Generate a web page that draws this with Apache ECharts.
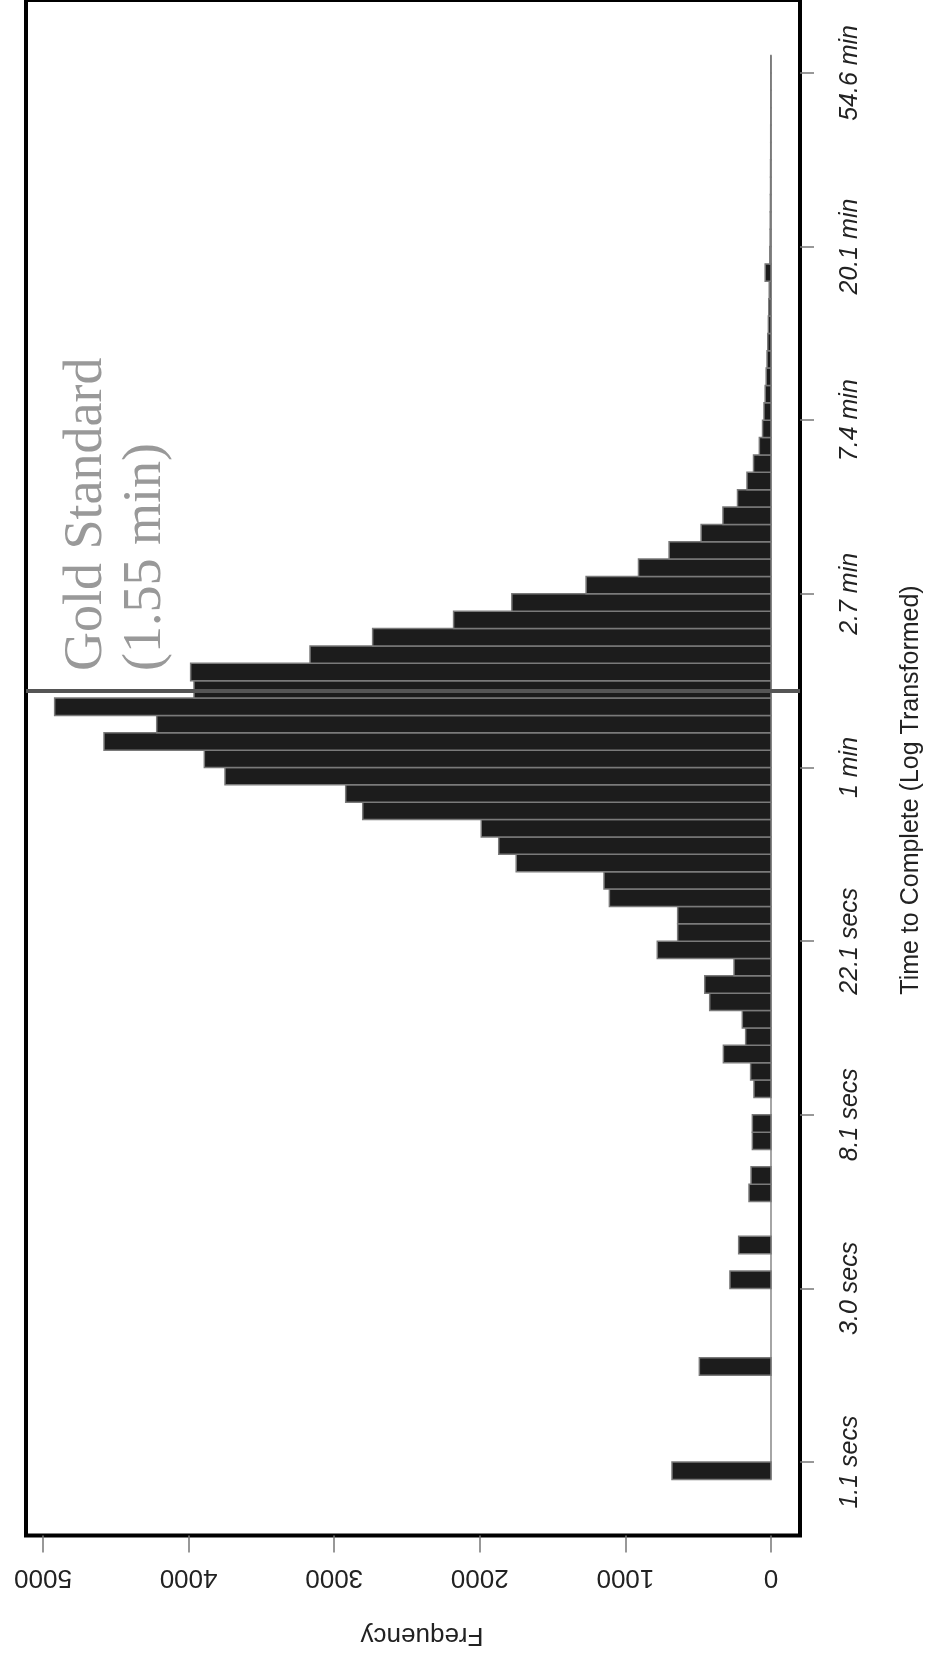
<!DOCTYPE html>
<html><head><meta charset="utf-8">
<script src="https://cdn.jsdelivr.net/npm/echarts@6/dist/echarts.min.js"></script>
<style>html,body{margin:0;padding:0;background:#fff}#c{width:929px;height:1663px}</style>
</head><body><div id="c"></div>
<script>
// Bin lower edges, in ln(minutes); each bin is 0.1 wide
const binLow = [-4.1,-4.0,-3.9,-3.8,-3.7,-3.6,-3.5,-3.4,-3.3,-3.2,
  -3.1,-3.0,-2.9,-2.8,-2.7,-2.6,-2.5,-2.4,-2.3,-2.2,
  -2.1,-2.0,-1.9,-1.8,-1.7,-1.6,-1.5,-1.4,-1.3,-1.2,
  -1.1,-1.0,-0.9,-0.8,-0.7,-0.6,-0.5,-0.4,-0.3,-0.2,
  -0.1,0.0,0.1,0.2,0.3,0.4,0.5,0.6,0.7,0.8,
  0.9,1.0,1.1,1.2,1.3,1.4,1.5,1.6,1.7,1.8,
  1.9,2.0,2.1,2.2,2.3,2.4,2.5,2.6,2.7,2.8,
  2.9,3.0,3.1,3.2,3.3,3.4,3.5,3.6,3.7,3.8,
  3.9,4.0];
const binWidth = 0.1;
const counts = [680,0,0,0,0,0,492,0,0,0,
  0,282,0,222,0,0,151,137,0,128,
  128,0,117,140,327,174,197,421,455,254,
  781,641,641,1110,1147,1750,1870,1990,2804,2921,
  3750,3892,4581,4219,4920,3963,3986,3166,2736,2180,
  1780,1270,910,700,480,330,230,165,120,80,
  58,48,40,33,27,22,18,15,12,40,
  8,6,5,4,3,3,2,2,1,1,
  1,1];
const timeTickValues = [-4,-3,-2,-1,0,1,2,3,4];
const timeTickLabels = ['1.1 secs','3.0 secs','8.1 secs','22.1 secs','1 min','2.7 min','7.4 min','20.1 min','54.6 min'];
const freqTicks = [0,1000,2000,3000,4000,5000];
const goldStandardMin = 1.55;
const goldText = ['Gold Standard','(1.55 min)'];

const data = binLow.map((lo, i) => [lo, lo + binWidth, counts[i]]);
const chart = echarts.init(document.getElementById('c'), null, {renderer:'canvas'});
const SANS = 'Liberation Sans';
chart.setOption({
  animation:false,
  backgroundColor:'#fff',
  grid:{left:26, right:129, top:-1, bottom:127.5, show:true, borderColor:'#000', borderWidth:4, backgroundColor:'transparent'},
  xAxis:{type:'value', inverse:true, min:-199.2, max:5116.8, position:'bottom',
    axisLine:{show:false, onZero:false}, splitLine:{show:false},
    axisTick:{show:true, length:17, lineStyle:{color:'#777', width:1.5}, customValues:freqTicks},
    axisLabel:{rotate:180, margin:29, fontSize:26, fontFamily:SANS, color:'#222', customValues:freqTicks,
      formatter:v => String(Math.round(v))}
  },
  yAxis:{type:'value', position:'right', min:-4.423, max:4.420,
    axisLine:{show:false, onZero:false}, splitLine:{show:false},
    axisTick:{show:true, length:14, lineStyle:{color:'#777', width:1.5}, customValues:timeTickValues},
    axisLabel:{rotate:90, margin:38, fontSize:25, fontStyle:'italic', fontFamily:SANS, color:'#222',
      customValues:timeTickValues,
      formatter:v => timeTickLabels[timeTickValues.indexOf(Math.round(v))]}
  },
  series:[
    {type:'line', silent:true, symbol:'none', z:1,
      data:[[0, binLow[0]], [0, binLow[binLow.length-1] + binWidth]],
      lineStyle:{color:'#888', width:1.5}},
    {type:'custom', z:2, silent:true,
      data:data,
      encode:{x:2, y:[0,1]},
      renderItem:function(params, api){
        const lo = api.value(0), hi = api.value(1), c = api.value(2);
        if (!c) return null;
        const a = api.coord([c, hi]);
        const b = api.coord([0, lo]);
        return {type:'rect',
          shape:{x:Math.min(a[0],b[0]), y:Math.min(a[1],b[1]), width:Math.abs(b[0]-a[0]), height:Math.abs(b[1]-a[1])},
          style:{fill:'#1c1c1c', stroke:'#7a7a7a', lineWidth:1.5}};
      },
      markLine:{silent:true, symbol:'none', label:{show:false},
        lineStyle:{color:'#555', width:4, type:'solid'},
        data:[{yAxis:Math.log(goldStandardMin)}]}
    }
  ],
  graphic:[
    {type:'text', x:87, y:671, rotation:Math.PI/2, z:10,
      style:{text:goldText[0], font:'54px "Liberation Serif"', fill:'#999', textAlign:'left', textVerticalAlign:'middle'}},
    {type:'text', x:146, y:671, rotation:Math.PI/2, z:10,
      style:{text:goldText[1], font:'54px "Liberation Serif"', fill:'#999', textAlign:'left', textVerticalAlign:'middle'}},
    {type:'text', x:911, y:790, rotation:Math.PI/2, z:10,
      style:{text:'Time to Complete (Log Transformed)', font:'25px "Liberation Sans"', fill:'#222', textAlign:'center', textVerticalAlign:'middle'}},
    {type:'text', x:422, y:1635, rotation:Math.PI, z:10,
      style:{text:'Frequency', font:'26px "Liberation Sans"', fill:'#222', textAlign:'center', textVerticalAlign:'middle'}}
  ]
});
</script></body></html>
